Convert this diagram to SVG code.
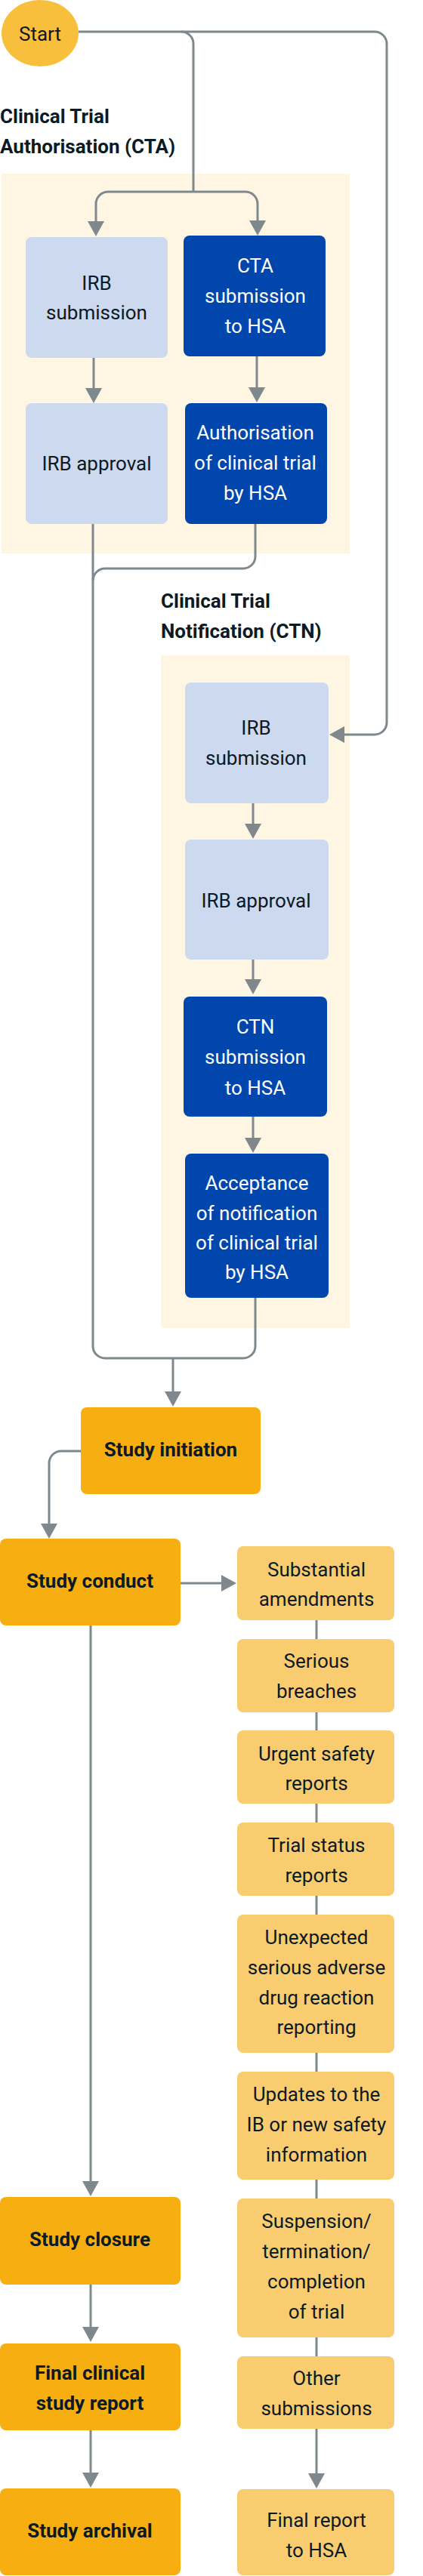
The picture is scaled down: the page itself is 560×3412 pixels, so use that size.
<svg xmlns="http://www.w3.org/2000/svg" width="560" height="3412" viewBox="0 0 560 3412">
<style>
text{font-family:Roboto,"Liberation Sans",sans-serif;font-size:26px;fill:#0c1a24;text-anchor:middle}
.b{font-weight:bold}
.t{font-weight:bold;text-anchor:start}
.w{fill:#ffffff}
.cream{fill:#fef5e2}
.lb{fill:#cdd9ef}
.db{fill:#0046ad}
.or{fill:#f7ae11}
.lo{fill:#f9cd6f}
.c{fill:none;stroke:#7f898d;stroke-width:3}
.a{marker-end:url(#ah)}
</style>
<defs>
<marker id="ah" markerUnits="userSpaceOnUse" markerWidth="22" markerHeight="22" refX="12" refY="11" orient="auto">
<path d="M0,0 L20,11 L0,22 Z" fill="#7f898d"/>
</marker>
</defs>
<g id="cta-group">
<rect class="cream" x="2" y="230" width="461" height="503"/>
<text class="t" x="0" y="163">Clinical Trial</text>
<text class="t" x="0" y="203">Authorisation (CTA)</text>
</g>
<g id="ctn-group">
<rect class="cream" x="213" y="868" width="250" height="891"/>
<text class="t" x="213" y="805">Clinical Trial</text>
<text class="t" x="213" y="845">Notification (CTN)</text>
</g>
<g id="connectors">
<path class="c" d="M104,42 H240 A16,16 0 0 1 256,58 V254"/>
<path class="c a" d="M256,254 H143 A16,16 0 0 0 127,270 V305"/>
<path class="c a" d="M256,254 H325 A16,16 0 0 1 341,270 V304"/>
<path class="c a" d="M240,42 H496 A16,16 0 0 1 512,58 V957 A16,16 0 0 1 496,973 H444"/>
<path class="c a" d="M124,474 V526"/>
<path class="c a" d="M340,472 V525"/>
<path class="c" d="M123,694 V1783 A16,16 0 0 0 139,1799 H322 A16,16 0 0 0 338,1783 V1719"/>
<path class="c" d="M338,694 V737 A16,16 0 0 1 322,753 H139 A16,16 0 0 0 123,769"/>
<path class="c a" d="M229,1799 V1855"/>
<path class="c a" d="M335,1064 V1103"/>
<path class="c a" d="M335,1271 V1309"/>
<path class="c a" d="M335,1479 V1519"/>
<path class="c a" d="M107,1922 H81 A16,16 0 0 0 65,1938 V2030"/>
<path class="c a" d="M239,2097 H305"/>
<path class="c" d="M419,2146 V3121"/>
<path class="c a" d="M419,3217 V3288"/>
<path class="c a" d="M120,2153 V2901"/>
<path class="c a" d="M120,3026 V3094"/>
<path class="c a" d="M120,3219 V3287"/>
</g>
<g id="start">
<ellipse cx="53" cy="44" rx="51" ry="44" fill="#f8bf3d"/>
<text x="53" y="54">Start</text>
</g>
<g id="cta-irb-submission">
<rect class="lb" x="34" y="314" width="188" height="160" rx="8"/>
<text x="128" y="384">IRB</text>
<text x="128" y="423">submission</text>
</g>
<g id="cta-submission">
<rect class="db" x="243" y="312" width="188" height="160" rx="8"/>
<text class="w" x="338" y="361">CTA</text>
<text class="w" x="338" y="401">submission</text>
<text class="w" x="338" y="441">to HSA</text>
</g>
<g id="cta-irb-approval">
<rect class="lb" x="34" y="534" width="188" height="160" rx="8"/>
<text x="128" y="623">IRB approval</text>
</g>
<g id="cta-authorisation">
<rect class="db" x="245" y="534" width="188" height="160" rx="8"/>
<text class="w" x="338" y="582">Authorisation</text>
<text class="w" x="338" y="622">of clinical trial</text>
<text class="w" x="338" y="662">by HSA</text>
</g>
<g id="ctn-irb-submission">
<rect class="lb" x="245" y="904" width="190" height="160" rx="8"/>
<text x="339" y="973">IRB</text>
<text x="339" y="1013">submission</text>
</g>
<g id="ctn-irb-approval">
<rect class="lb" x="245" y="1112" width="190" height="159" rx="8"/>
<text x="339" y="1202">IRB approval</text>
</g>
<g id="ctn-submission">
<rect class="db" x="243" y="1320" width="190" height="159" rx="8"/>
<text class="w" x="338" y="1369">CTN</text>
<text class="w" x="338" y="1409">submission</text>
<text class="w" x="338" y="1450">to HSA</text>
</g>
<g id="ctn-acceptance">
<rect class="db" x="245" y="1528" width="190" height="191" rx="8"/>
<text class="w" x="340" y="1576">Acceptance</text>
<text class="w" x="340" y="1616">of notification</text>
<text class="w" x="340" y="1655">of clinical trial</text>
<text class="w" x="340" y="1694">by HSA</text>
</g>
<g id="study-initiation">
<rect class="or" x="107" y="1864" width="238" height="115" rx="8"/>
<text class="b" x="226" y="1929">Study initiation</text>
</g>
<g id="study-conduct">
<rect class="or" x="0" y="2038" width="239" height="115" rx="8"/>
<text class="b" x="119" y="2103">Study conduct</text>
</g>
<g id="study-closure">
<rect class="or" x="0" y="2910" width="239" height="116" rx="8"/>
<text class="b" x="119" y="2975">Study closure</text>
</g>
<g id="final-csr">
<rect class="or" x="0" y="3104" width="239" height="115" rx="8"/>
<text class="b" x="119" y="3152">Final clinical</text>
<text class="b" x="119" y="3192">study report</text>
</g>
<g id="study-archival">
<rect class="or" x="0" y="3296" width="239" height="115" rx="8"/>
<text class="b" x="119" y="3361">Study archival</text>
</g>
<g id="substantial-amendments">
<rect class="lo" x="314" y="2048" width="208" height="98" rx="8"/>
<text x="419" y="2088">Substantial</text>
<text x="419" y="2127">amendments</text>
</g>
<g id="serious-breaches">
<rect class="lo" x="314" y="2171" width="208" height="97" rx="8"/>
<text x="419" y="2209">Serious</text>
<text x="419" y="2249">breaches</text>
</g>
<g id="urgent-safety">
<rect class="lo" x="314" y="2292" width="208" height="97" rx="8"/>
<text x="419" y="2332">Urgent safety</text>
<text x="419" y="2371">reports</text>
</g>
<g id="trial-status">
<rect class="lo" x="314" y="2414" width="208" height="97" rx="8"/>
<text x="419" y="2453">Trial status</text>
<text x="419" y="2493">reports</text>
</g>
<g id="susar">
<rect class="lo" x="314" y="2536" width="208" height="183" rx="8"/>
<text x="419" y="2575">Unexpected</text>
<text x="419" y="2615">serious adverse</text>
<text x="419" y="2655">drug reaction</text>
<text x="419" y="2694">reporting</text>
</g>
<g id="ib-updates">
<rect class="lo" x="314" y="2744" width="208" height="143" rx="8"/>
<text x="419" y="2783">Updates to the</text>
<text x="419" y="2823">IB or new safety</text>
<text x="419" y="2863">information</text>
</g>
<g id="suspension">
<rect class="lo" x="314" y="2912" width="208" height="184" rx="8"/>
<text x="419" y="2951">Suspension/</text>
<text x="419" y="2991">termination/</text>
<text x="419" y="3031">completion</text>
<text x="419" y="3071">of trial</text>
</g>
<g id="other-submissions">
<rect class="lo" x="314" y="3121" width="208" height="96" rx="8"/>
<text x="419" y="3159">Other</text>
<text x="419" y="3199">submissions</text>
</g>
<g id="final-report">
<rect class="lo" x="314" y="3297" width="208" height="114" rx="8"/>
<text x="419" y="3347">Final report</text>
<text x="419" y="3387">to HSA</text>
</g>
</svg>
